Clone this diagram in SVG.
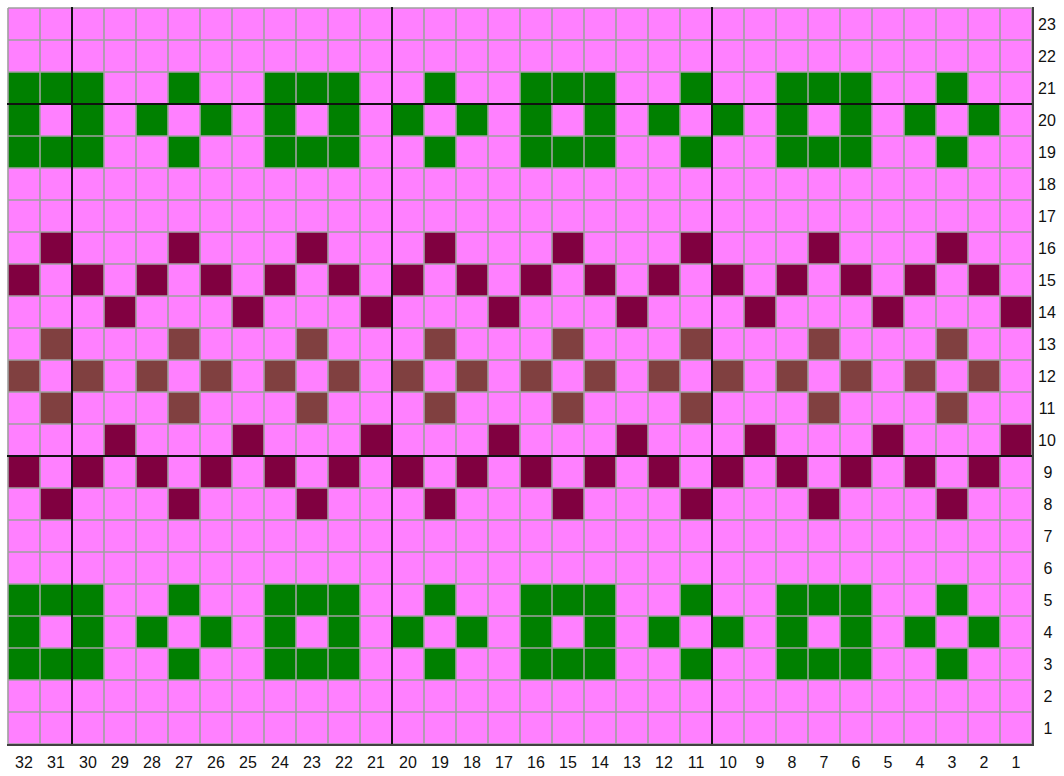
<svg xmlns="http://www.w3.org/2000/svg" xmlns:xlink="http://www.w3.org/1999/xlink" width="1064" height="776" viewBox="0 0 1064 776">
<style>
.g{fill:#008000}.m{fill:#800040}.b{fill:#804040}
.grid{stroke:#a0a0a0;stroke-width:1.6;fill:none}
.thick{stroke:#111;stroke-width:2;fill:none;shape-rendering:crispEdges}
.lbl{font-family:"Liberation Sans",Arial,sans-serif;font-size:16px;fill:#111;text-anchor:middle}
</style>
<defs>
<g id="gm" class="g">
<rect x="0" y="0" width="32" height="32"/><rect x="32" y="0" width="32" height="32"/><rect x="64" y="0" width="32" height="32"/><rect x="160" y="0" width="32" height="32"/>
<rect x="0" y="32" width="32" height="32"/><rect x="64" y="32" width="32" height="32"/><rect x="128" y="32" width="32" height="32"/><rect x="192" y="32" width="32" height="32"/>
<rect x="0" y="64" width="32" height="32"/><rect x="32" y="64" width="32" height="32"/><rect x="64" y="64" width="32" height="32"/><rect x="160" y="64" width="32" height="32"/>
</g>
<g id="mu" class="m"><rect x="32" y="0" width="32" height="32"/><rect x="0" y="32" width="32" height="32"/><rect x="64" y="32" width="32" height="32"/><rect x="96" y="64" width="32" height="32"/></g>
<g id="bm" class="b"><rect x="32" y="0" width="32" height="32"/><rect x="0" y="32" width="32" height="32"/><rect x="64" y="32" width="32" height="32"/><rect x="32" y="64" width="32" height="32"/></g>
<g id="ml" class="m"><rect x="96" y="0" width="32" height="32"/><rect x="0" y="32" width="32" height="32"/><rect x="64" y="32" width="32" height="32"/><rect x="32" y="64" width="32" height="32"/></g>
</defs>
<rect x="0" y="0" width="1064" height="776" fill="#ffffff"/>
<g id="chart">
<rect x="8" y="8" width="1024" height="736" fill="#ff80ff"/>
<g id="green-top">
<use xlink:href="#gm" x="8" y="72"/><use xlink:href="#gm" x="264" y="72"/><use xlink:href="#gm" x="520" y="72"/><use xlink:href="#gm" x="776" y="72"/>
</g>
<g id="green-bottom">
<use xlink:href="#gm" x="8" y="584"/><use xlink:href="#gm" x="264" y="584"/><use xlink:href="#gm" x="520" y="584"/><use xlink:href="#gm" x="776" y="584"/>
</g>
<g id="maroon-upper">
<use xlink:href="#mu" x="8" y="232"/><use xlink:href="#mu" x="136" y="232"/><use xlink:href="#mu" x="264" y="232"/><use xlink:href="#mu" x="392" y="232"/><use xlink:href="#mu" x="520" y="232"/><use xlink:href="#mu" x="648" y="232"/><use xlink:href="#mu" x="776" y="232"/><use xlink:href="#mu" x="904" y="232"/>
</g>
<g id="brown-middle">
<use xlink:href="#bm" x="8" y="328"/><use xlink:href="#bm" x="136" y="328"/><use xlink:href="#bm" x="264" y="328"/><use xlink:href="#bm" x="392" y="328"/><use xlink:href="#bm" x="520" y="328"/><use xlink:href="#bm" x="648" y="328"/><use xlink:href="#bm" x="776" y="328"/><use xlink:href="#bm" x="904" y="328"/>
</g>
<g id="maroon-lower">
<use xlink:href="#ml" x="8" y="424"/><use xlink:href="#ml" x="136" y="424"/><use xlink:href="#ml" x="264" y="424"/><use xlink:href="#ml" x="392" y="424"/><use xlink:href="#ml" x="520" y="424"/><use xlink:href="#ml" x="648" y="424"/><use xlink:href="#ml" x="776" y="424"/><use xlink:href="#ml" x="904" y="424"/>
</g>
<path class="grid" d="M8 8V744M40 8V744M72 8V744M104 8V744M136 8V744M168 8V744M200 8V744M232 8V744M264 8V744M296 8V744M328 8V744M360 8V744M392 8V744M424 8V744M456 8V744M488 8V744M520 8V744M552 8V744M584 8V744M616 8V744M648 8V744M680 8V744M712 8V744M744 8V744M776 8V744M808 8V744M840 8V744M872 8V744M904 8V744M936 8V744M968 8V744M1000 8V744M1032 8V744
M8 8H1032M8 40H1032M8 72H1032M8 104H1032M8 136H1032M8 168H1032M8 200H1032M8 232H1032M8 264H1032M8 296H1032M8 328H1032M8 360H1032M8 392H1032M8 424H1032M8 456H1032M8 488H1032M8 520H1032M8 552H1032M8 584H1032M8 616H1032M8 648H1032M8 680H1032M8 712H1032M8 744H1032"/>
<path class="thick" d="M72 7V745M392 7V745M712 7V745M7 104H1033M7 456H1033"/>
<path d="M1033 7V746M7 745H1034" stroke="#404040" stroke-width="2" fill="none"/>
</g>
<g id="row-labels" class="lbl">
<text x="1047" y="30">23</text><text x="1047" y="62">22</text><text x="1047" y="94">21</text><text x="1047" y="126">20</text><text x="1047" y="158">19</text><text x="1047" y="190">18</text><text x="1047" y="222">17</text><text x="1047" y="254">16</text><text x="1047" y="286">15</text><text x="1047" y="318">14</text><text x="1047" y="350">13</text><text x="1047" y="382">12</text><text x="1047" y="414">11</text><text x="1047" y="446">10</text><text x="1048" y="478">9</text><text x="1048" y="510">8</text><text x="1048" y="542">7</text><text x="1048" y="574">6</text><text x="1048" y="606">5</text><text x="1048" y="638">4</text><text x="1048" y="670">3</text><text x="1048" y="702">2</text><text x="1048" y="734">1</text>
</g>
<g id="col-labels" class="lbl">
<text x="24" y="768">32</text><text x="56" y="768">31</text><text x="88" y="768">30</text><text x="120" y="768">29</text><text x="152" y="768">28</text><text x="184" y="768">27</text><text x="216" y="768">26</text><text x="248" y="768">25</text><text x="280" y="768">24</text><text x="312" y="768">23</text><text x="344" y="768">22</text><text x="376" y="768">21</text><text x="408" y="768">20</text><text x="440" y="768">19</text><text x="472" y="768">18</text><text x="504" y="768">17</text><text x="536" y="768">16</text><text x="568" y="768">15</text><text x="600" y="768">14</text><text x="632" y="768">13</text><text x="664" y="768">12</text><text x="696" y="768">11</text><text x="728" y="768">10</text><text x="760" y="768">9</text><text x="792" y="768">8</text><text x="824" y="768">7</text><text x="856" y="768">6</text><text x="888" y="768">5</text><text x="920" y="768">4</text><text x="952" y="768">3</text><text x="984" y="768">2</text><text x="1016" y="768">1</text>
</g>
</svg>
